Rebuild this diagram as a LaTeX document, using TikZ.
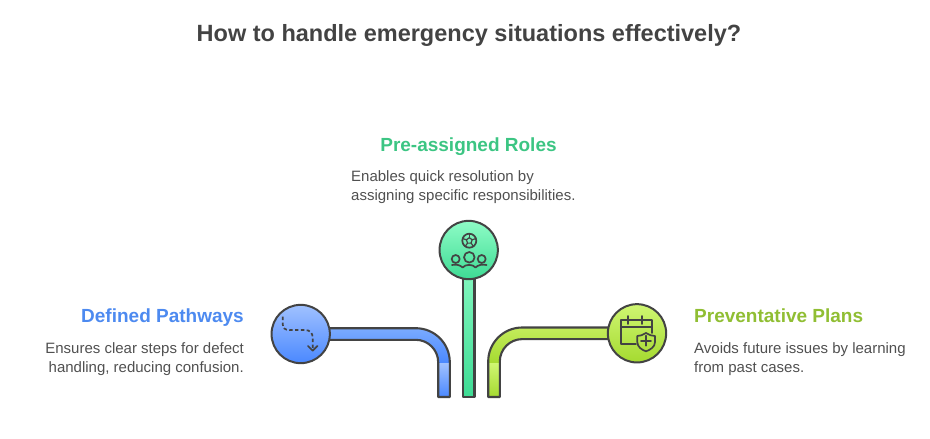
\documentclass[tikz,border=0pt]{standalone}
\usepackage{fontspec}
\setmainfont{Liberation Sans}
\usetikzlibrary{backgrounds}
\definecolor{inkgray}{HTML}{434343}
\definecolor{bodygray}{HTML}{505050}
\definecolor{blueTop}{HTML}{A0C1FF}
\definecolor{blueBend}{HTML}{7AABFF}
\definecolor{blueLow}{HTML}{4A88FF}
\definecolor{greenTop}{HTML}{8EFCC6}
\definecolor{greenLow}{HTML}{3EDB94}
\definecolor{limeTop}{HTML}{CFF672}
\definecolor{limeBend}{HTML}{C3EC5B}
\definecolor{limeLow}{HTML}{A5DA30}
\definecolor{blueHead}{HTML}{4D8AF0}
\definecolor{greenHead}{HTML}{3CC583}
\definecolor{limeHead}{HTML}{90BE33}

\begin{document}
\begin{tikzpicture}[x=1pt, y=-1pt,
                iconnode/.style={circle, draw=inkgray, line width=2pt, inner sep=0pt, minimum size=58.3pt},
                headnode/.style={inner sep=0pt, font=\fontsize{19}{23}\selectfont\bfseries},
                bodynode/.style={inner sep=0pt, text=bodygray, font=\fontsize{15}{18.2}\selectfont},
                bandline/.style={draw=inkgray, line width=2.1pt, line join=round},
                iconline/.style={draw=inkgray, line width=1.7pt, line cap=round, line join=round},
                bluefill/.style={top color=blueTop, bottom color=blueLow},
                bluebend/.style={top color=blueBend, bottom color=blueLow},
                greenfill/.style={top color=greenTop, bottom color=greenLow},
                limefill/.style={top color=limeTop, bottom color=limeLow},
                limebend/.style={top color=limeBend, bottom color=limeLow}]

                \useasboundingbox (0,0) rectangle (930,439);

                \node (title) [inner sep=0pt, text=inkgray, anchor=base, font=\fontsize{23.5}{28}\selectfont\bfseries] at (469,41.8) {How to handle emergency situations effectively?};

                \node (pathIcon) [iconnode, bluefill] at (300.7,334) {};
                \node (rolesIcon) [iconnode, greenfill] at (468.7,250) {};
                \node (plansIcon) [iconnode, limefill] at (637,333.3) {};

                \coordinate (pathEnd) at (444,397);
                \coordinate (pathMid) at (444,363.3);
                \coordinate (pathBend) at (pathIcon.center -| pathEnd);
                \coordinate (rolesEnd) at (468.7,397);
                \coordinate (plansEnd) at (494,397);
                \coordinate (plansMid) at (494,363.3);
                \coordinate (plansBend) at (plansIcon.center -| plansEnd);

                \node (pathHead) [headnode, text=blueHead, anchor=base east] at (244,322.7) {Defined Pathways};
                \node (pathText) [bodynode, align=right, anchor=base east] at (244,372) {Ensures clear steps for defect\\handling, reducing confusion.};
                \node (rolesHead) [headnode, text=greenHead, anchor=base] at (468.5,151) {Pre-assigned Roles};
                \node (rolesText) [bodynode, align=left, anchor=base west] at (351,200) {Enables quick resolution by\\assigning specific responsibilities.};
                \node (plansHead) [headnode, text=limeHead, anchor=base west] at (694,322.7) {Preventative Plans};
                \node (plansText) [bodynode, align=left, anchor=base west] at (694,372) {Avoids future issues by learning\\from past cases.};

                \begin{pgfonlayer}{background}
                % Band from the blue circle
                \shade[bluebend] ([yshift=5.8pt]pathIcon.center) [rounded corners=34pt] -- ([xshift=5.8pt,yshift=5.8pt]pathBend) [sharp corners] -- ([xshift=5.8pt]pathMid) -- ([xshift=-5.8pt]pathMid) [rounded corners=22.5pt] -- ([xshift=-5.8pt,yshift=-5.8pt]pathBend) [sharp corners] -- ([yshift=-5.8pt]pathIcon.center) -- cycle;
                \shade[bluefill] ([xshift=-5.8pt]pathMid) rectangle ([xshift=5.8pt]pathEnd);
                \path[bandline] ([yshift=5.8pt]pathIcon.center) [rounded corners=34pt] -- ([xshift=5.8pt,yshift=5.8pt]pathBend) [sharp corners] -- ([xshift=5.8pt]pathEnd) -- ([xshift=-5.8pt]pathEnd) [rounded corners=22.5pt] -- ([xshift=-5.8pt,yshift=-5.8pt]pathBend) [sharp corners] -- ([yshift=-5.8pt]pathIcon.center);

                % Straight band under the green circle
                \path[bandline, greenfill] ([xshift=-5.8pt]rolesIcon.center) -- ([xshift=-5.8pt]rolesEnd) -- ([xshift=5.8pt]rolesEnd) -- ([xshift=5.8pt]rolesIcon.center);

                % Band from the lime circle
                \shade[limebend] ([yshift=5.8pt]plansIcon.center) [rounded corners=34pt] -- ([xshift=-5.8pt,yshift=5.8pt]plansBend) [sharp corners] -- ([xshift=-5.8pt]plansMid) -- ([xshift=5.8pt]plansMid) [rounded corners=22.5pt] -- ([xshift=5.8pt,yshift=-5.8pt]plansBend) [sharp corners] -- ([yshift=-5.8pt]plansIcon.center) -- cycle;
                \shade[limefill] ([xshift=-5.8pt]plansMid) rectangle ([xshift=5.8pt]plansEnd);
                \path[bandline] ([yshift=5.8pt]plansIcon.center) [rounded corners=34pt] -- ([xshift=-5.8pt,yshift=5.8pt]plansBend) [sharp corners] -- ([xshift=-5.8pt]plansEnd) -- ([xshift=5.8pt]plansEnd) [rounded corners=22.5pt] -- ([xshift=5.8pt,yshift=-5.8pt]plansBend) [sharp corners] -- ([yshift=-5.8pt]plansIcon.center);
                \end{pgfonlayer}

                % Dashed route in the blue circle
                \draw[iconline, dash pattern=on 3.4pt off 2.4pt, line cap=butt] (282.7,316.7) -- (282.7,324) .. controls (282.7,328) and (285,330) .. (289.3,330) -- (305,330) .. controls (310,330) and (312.7,333) .. (312.7,338) -- (312.7,350);
                \draw[iconline] (308,346) -- (312.7,350.7) -- (317.4,346);

                % Ball and people in the green circle
                \draw[iconline] (469.3,240.7) circle (7);
                \draw[iconline, line width=1.2pt, shift={(469.3,240.7)}] (-90:3) -- (-18:3) -- (54:3) -- (126:3) -- (198:3) -- cycle;
                \foreach \a in {-90,-18,54,126,198}
                    \draw[iconline, line width=1.2pt, shift={(469.3,240.7)}] (\a:3) -- (\a:7);
                \draw[iconline] (469.3,257.3) circle (5.3);
                \draw[iconline] (455.7,259) circle (4);
                \draw[iconline] (481.7,259) circle (4);
                \draw[iconline] (452,265) .. controls (456,264) and (460,265) .. (462.7,267.5) .. controls (465,264) and (473,264) .. (475.5,267.5) .. controls (478,265) and (482,264) .. (486.5,265);

                % Calendar and shield in the lime circle
                \draw[iconline] (636,344) -- (620.7,344) -- (620.7,320) -- (651.7,320) -- (651.7,333);
                \draw[iconline] (620.7,327.3) -- (651.7,327.3);
                \draw[iconline] (628,316) -- (628,324);
                \draw[iconline] (642.3,316) -- (642.3,324);
                \draw[iconline] (646,333) .. controls (649,335) and (652,336) .. (655,336) -- (655,342) .. controls (655,347) and (650,350) .. (646,351.3) .. controls (642,350) and (637.3,347) .. (637.3,342) -- (637.3,336) .. controls (640,336) and (643,335) .. (646,333) -- cycle;
                \draw[iconline] (641,340.7) -- (651,340.7);
                \draw[iconline] (646,335.7) -- (646,345.7);

\end{tikzpicture}
\end{document}
